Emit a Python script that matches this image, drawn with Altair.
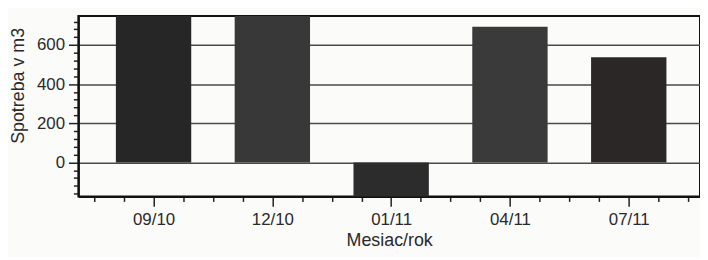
import json
import altair as alt
import pandas as pd

labels = ["09/10", "12/10", "01/11", "04/11", "07/11"]
values = [760, 760, -190, 693, 537]
colors = ["#262626", "#383838", "#2c2c2c", "#3a3a3a", "#2b2727"]

df = pd.DataFrame({"idx": list(range(len(labels))), "label": labels, "value": values, "color": colors})

x_ticks = [i / 4 for i in range(-2, 19)]
y_ticks = list(range(-160, 741, 40))
FONT = "Liberation Sans"

x_axis = alt.Axis(
    values=x_ticks,
    labelExpr="datum.value % 1 === 0 ? " + json.dumps(labels) + "[datum.value] : ''",
    grid=False,
    tickSize={"condition": {"test": "datum.value % 1 === 0", "value": 10}, "value": 5},
    tickColor="#222",
    tickWidth=1.5,
    domainColor="#111",
    domainWidth=2,
    labelFont=FONT, labelFontSize=17, labelColor="#2a2a2a", labelPadding=5,
    title="Mesiac/rok", titleFont=FONT, titleFontSize=18, titleFontWeight="normal",
    titleColor="#2a2a2a", titlePadding=4,
)
y_axis = alt.Axis(
    values=y_ticks,
    labelExpr="datum.value % 200 === 0 ? datum.label : ''",
    grid=True,
    gridColor="#4a4a4a",
    gridWidth=1.5,
    gridOpacity={"condition": {"test": "datum.value % 200 === 0 && datum.value >= 0", "value": 1}, "value": 0},
    tickSize={"condition": {"test": "datum.value % 200 === 0", "value": 10}, "value": 5},
    tickColor="#222",
    tickWidth=1.5,
    domainColor="#111",
    domainWidth=2,
    labelFont=FONT, labelFontSize=17, labelColor="#2a2a2a", labelPadding=4,
    title="Spotreba v m3", titleFont=FONT, titleFontSize=18, titleFontWeight="normal",
    titleColor="#2a2a2a", titlePadding=9, titleY=70,
)

chart = alt.Chart(df).mark_bar(size=76, clip=True).encode(
    x=alt.X("idx:Q", scale=alt.Scale(domain=[-0.591, 4.558], nice=False, zero=False), axis=x_axis),
    y=alt.Y("value:Q", scale=alt.Scale(domain=[-174, 748], nice=False), axis=y_axis),
    color=alt.Color("color:N", scale=None),
).properties(
    width=627, height=182,
    autosize=alt.AutoSizeParams(type="none"),
    padding={"left": 71, "top": 7, "right": 0, "bottom": 60},
    background="#fbfbf9",
).configure_view(stroke="#111", strokeWidth=2)

chart.save("out.html", embed_options={"renderer": "svg", "actions": False})
